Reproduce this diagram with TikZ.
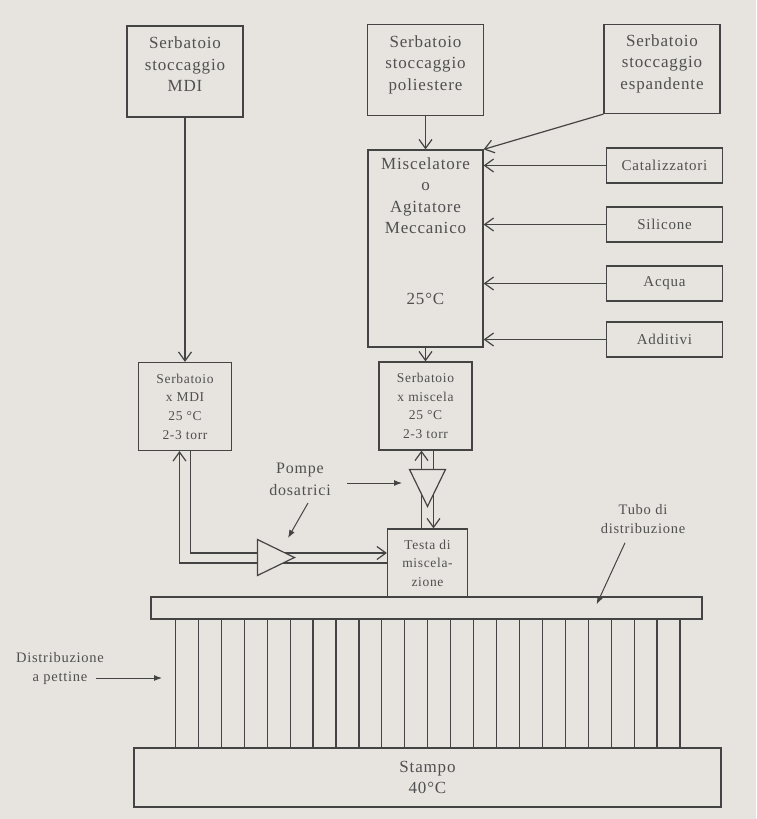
\documentclass[tikz,border=0pt]{standalone}
\usepackage{fontspec}
\setmainfont{Liberation Serif}[LetterSpace=5]
\usepackage{tikz}
\usetikzlibrary{shapes.geometric, arrows.meta, positioning}
\definecolor{paper}{RGB}{231,228,223}
\definecolor{ink}{RGB}{68,68,68}
\definecolor{inktext}{RGB}{80,80,80}

\begin{document}
\begin{tikzpicture}[x=1pt, y=-1pt]

        % Define styles
        \tikzstyle{block} = [rectangle, draw=ink, line width=1.2pt, align=center, inner sep=0pt, text=inktext]
        \tikzstyle{store} = [block, minimum width=116pt, minimum height=91pt, text depth=14pt, font=\fontsize{17}{21.5}\selectfont]
        \tikzstyle{additive} = [block, minimum width=116pt, minimum height=35pt, font=\fontsize{15}{18}\selectfont]
        \tikzstyle{tank} = [block, minimum width=93pt, minimum height=88pt, font=\fontsize{13.5}{18.7}\selectfont]
        \tikzstyle{pump} = [isosceles triangle, isosceles triangle stretches, draw=ink, line width=1.2pt, fill=paper, minimum width=36pt, minimum height=37pt, inner sep=0pt]
        \tikzstyle{line} = [draw=ink, line width=1.2pt]
        \tikzstyle{flow} = [line, -{Straight Barb[length=9pt,width=13pt]}]
        \tikzstyle{pointer} = [draw=ink, line width=1pt, -{Latex[length=8pt,width=6pt]}]
        \tikzstyle{note} = [align=center, inner sep=0pt, text=inktext]

        % Paper
        \fill[paper] (0,0) rectangle (756,819);
        \useasboundingbox (0,0) rectangle (756,819);

        % Storage tanks
        \node [store] (mdistore) at (185,71.5) {Serbatoio\\stoccaggio\\MDI};
        \node [store] (polstore) at (425.5,70) {Serbatoio\\stoccaggio\\poliestere};
        \node [store, minimum height=89pt] (espstore) at (662,69) {Serbatoio\\stoccaggio\\espandente};

        % Mixer and additives
        \node [block, minimum width=115pt, minimum height=197pt] (mixer) at (425.5,248.5) {};
        \node [note, below=8pt of mixer.north, font=\fontsize{17}{21.5}\selectfont] (mixertxt) {Miscelatore\\o\\Agitatore\\Meccanico\\[49pt]25°C};
        \node [additive] (catal) at (664.5,165.5) {Catalizzatori};
        \node [additive] (silic) at (664.5,224.5) {Silicone};
        \node [additive] (acqua) at (664.5,283.5) {Acqua};
        \node [additive] (addit) at (664.5,339.5) {Additivi};

        % Buffer tanks
        \node [tank] (mditank) at (185,406.5) {Serbatoio\\x MDI\\25 °C\\2-3 torr};
        \node [tank] (mixtank) at (425.5,406) {Serbatoio\\x miscela\\25 °C\\2-3 torr};

        % Mixing head, distribution, mould
        \node [block, minimum width=80pt, minimum height=68pt, font=\fontsize{13.5}{18.5}\selectfont] (testa) at (427.5,563) {Testa di\\miscela-\\zione};
        \node [block, minimum width=551pt, minimum height=22pt] (tubo) at (426.5,608) {};
        \node [block, minimum width=587pt, minimum height=59pt, font=\fontsize{17}{21}\selectfont] (stampo) at (427.5,777.5) {Stampo\\40°C};

        % Draw edges
        \path [flow] (mdistore) -- (mditank);
        \path [flow] (polstore) -- (mixer);
        \path [flow] (espstore.south west) -- (mixer.north east);
        \foreach \src in {catal, silic, acqua, addit}
            \path [flow] (\src.west) -- (\src.west -| mixer.east);
        \path [flow] (mixer) -- (mixtank);

        % Pipes to the mixing head
        \path [flow] ([xshift=5.5pt]mditank.south) |- ([yshift=10pt]testa.west);
        \path [flow] (testa.west) -| ([xshift=-5.5pt]mditank.south);
        \path [flow] ([xshift=6pt]testa.north |- mixtank.south) -- ([xshift=6pt]testa.north);
        \path [flow] ([xshift=-6pt]testa.north) -- ([xshift=-6pt]testa.north |- mixtank.south);

        % Pumps
        \node [pump, anchor=apex] (pumph) at (296,557.5) {};
        \node [pump, shape border rotate=270, anchor=apex] (pumpv) at (427.5,508) {};

        % Comb
        \foreach \i in {0,...,22}{
            \pgfmathsetmacro\cx{175.5+22.93*\i}
            \coordinate (comb\i) at (\cx,0 |- tubo.south);
            \path [line] (comb\i) -- (comb\i |- stampo.north);
        }

        % Labels
        \node [note, font=\fontsize{16}{22}\selectfont] (pompe) at (300,479) {Pompe\\dosatrici};
        \node [note, font=\fontsize{14.5}{19}\selectfont] (tubolbl) at (643,519) {Tubo di\\distribuzione};
        \node [note, font=\fontsize{14.5}{19}\selectfont] (distlbl) at (60,668.5) {Distribuzione\\a pettine};

        \path [pointer, shorten <=16pt, shorten >=25.5pt] ([yshift=-4pt]pompe.east) -- ([yshift=-4pt]pompe.east -| pumpv.apex);
        \path [pointer] ([shift={(8pt,-7.5pt)}]pompe.south) -- ([shift={(-8pt,19.5pt)}]pumph.apex);
        \path [pointer] ([shift={(-18pt,-9pt)}]tubolbl.south) -- ([shift={(-106pt,-8pt)}]tubo.north east);
        \path [pointer, shorten >=13.5pt] ([xshift=-8pt,yshift=-9.5pt]distlbl.east) -- ([yshift=-9.5pt]distlbl.east -| comb0);

\end{tikzpicture}
\end{document}
